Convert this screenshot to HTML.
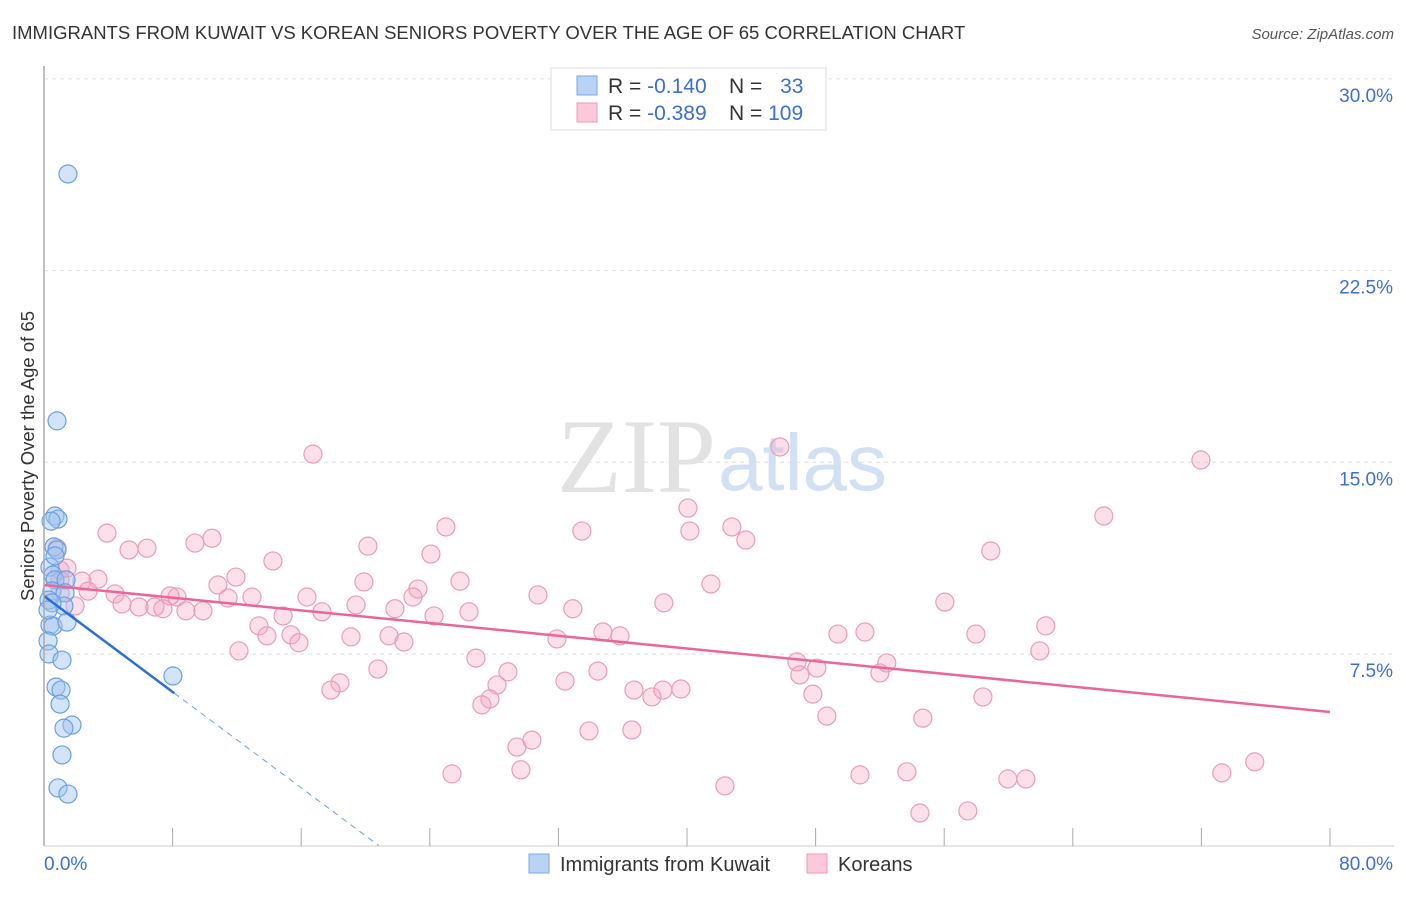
<!DOCTYPE html>
<html><head><meta charset="utf-8"><style>
body{margin:0;background:#fff;font-family:"Liberation Sans",sans-serif}
svg text{font-family:"Liberation Sans",sans-serif}
</style></head><body>
<svg id="c" width="1406" height="892">
<text x="12" y="39" font-size="18.5" fill="#333">IMMIGRANTS FROM KUWAIT VS KOREAN SENIORS POVERTY OVER THE AGE OF 65 CORRELATION CHART</text>
<text x="1394" y="39" font-size="15" fill="#555" font-style="italic" text-anchor="end">Source: ZipAtlas.com</text>
<g id="grid"></g>
<text x="716" y="492" font-size="106" fill="#e2e2e2" text-anchor="end" style="font-family:'Liberation Serif',serif">ZIP</text>
<text x="718" y="490" font-size="80" fill="#d2e0f4">atlas</text>
<g id="pts"></g>
<g id="axes"></g>
<text transform="translate(34,456) rotate(-90)" font-size="18.5" fill="#333" text-anchor="middle">Seniors Poverty Over the Age of 65</text>
<g>
<rect x="551" y="68" width="275" height="62" fill="#fff" stroke="#ddd"/>
<rect x="577" y="76" width="20" height="19" fill="#b9d3f5" stroke="#7aa7e3"/>
<rect x="577" y="103" width="20" height="19" fill="#fbc9d8" stroke="#ef9ab6"/>
<text x="608" y="93" font-size="21" fill="#333">R = <tspan fill="#3b6fd1">-0.140</tspan></text>
<text x="729" y="93" font-size="21" fill="#333">N = <tspan fill="#3b6fd1" dx="12">33</tspan></text>
<text x="608" y="120" font-size="21" fill="#333">R = <tspan fill="#3b6fd1">-0.389</tspan></text>
<text x="729" y="120" font-size="21" fill="#333">N = <tspan fill="#3b6fd1">109</tspan></text>
</g>
<g>
<rect x="529" y="854" width="20" height="19" fill="#b9d3f5" stroke="#7aa7e3"/>
<text x="560" y="871" font-size="20" fill="#333">Immigrants from Kuwait</text>
<rect x="807" y="854" width="20" height="19" fill="#fbc9d8" stroke="#ef9ab6"/>
<text x="838" y="871" font-size="20" fill="#333">Koreans</text>
</g>
</svg>
<script>
const yTicks=[7.5,15,22.5,30];
const yTickLabels=["7.5%","15.0%","22.5%","30.0%"];
const xTicks=[0,8,16,24,32,40,48,56,64,72,80];
const blueX=[1.49,0.81,0.68,0.87,0.44,0.62,0.81,0.37,0.56,0.68,1.37,0.50,1.31,0.31,1.24,0.37,0.56,1.43,0.25,0.31,1.12,0.75,1.06,1.0,1.74,1.24,1.12,0.87,1.49,8.02,0.50,0.25,0.68];
const blueY=[26.28,16.62,12.90,12.78,12.70,11.69,11.57,10.90,10.59,10.40,10.40,9.97,9.89,9.61,9.38,8.63,8.59,8.75,8.01,7.50,7.26,6.21,6.09,5.54,4.72,4.60,3.55,2.26,2.02,6.64,9.5,9.22,11.34];
const pinkX=[16.73,45.78,71.97,40.06,65.93,25.00,33.46,40.18,42.79,43.66,3.92,6.41,5.29,9.39,10.45,20.15,24.07,58.90,14.24,0.81,1.00,1.43,11.94,10.82,3.36,2.36,1.00,2.74,4.42,19.90,25.88,41.49,23.26,16.36,22.95,12.94,11.45,30.73,8.27,7.84,4.85,5.91,6.90,7.40,8.83,9.89,19.41,21.83,26.44,32.90,38.56,56.04,17.29,14.87,24.26,13.37,13.87,15.36,15.86,19.10,21.46,22.39,31.91,34.77,35.83,49.39,51.07,57.97,62.32,61.95,12.13,1.93,1.00,20.77,26.87,28.86,34.46,46.84,48.08,47.02,52.00,52.43,18.41,17.85,28.18,32.41,36.70,37.82,38.50,39.62,47.83,58.41,27.74,27.24,48.70,54.67,33.90,36.57,29.42,30.35,25.38,29.67,42.36,50.76,53.68,59.96,61.08,73.27,75.32,54.49,57.47];
const pinkY=[15.32,15.60,15.09,13.21,12.90,12.47,12.31,12.31,12.47,11.96,12.23,11.64,11.57,11.84,12.03,11.72,11.41,11.53,11.14,11.64,10.78,10.86,10.51,10.20,10.43,10.35,10.39,9.96,9.85,10.32,10.35,10.24,10.04,9.73,9.73,9.73,9.69,9.81,9.73,9.77,9.46,9.34,9.34,9.27,9.19,9.19,9.42,9.27,9.15,9.27,9.50,9.53,9.15,8.99,8.99,8.60,8.21,8.25,7.94,8.17,8.21,7.97,8.09,8.36,8.21,8.28,8.36,8.28,8.60,7.62,7.62,9.38,9.89,6.91,7.34,6.80,6.83,7.19,6.95,6.68,6.76,7.15,6.37,6.09,6.29,6.44,6.09,5.82,6.09,6.13,5.93,5.82,5.74,5.51,5.07,4.99,4.49,4.53,3.86,4.13,2.81,2.97,2.34,2.77,2.89,2.61,2.61,2.85,3.28,1.28,1.36];
const blueTrend=[9.77,-0.469];
const pinkTrend=[10.20,-0.0621];
const X0=44,X1=1330,Y0=845.7,YS=191.7/7.5;
const sx=v=>X0+(v/80)*(X1-X0), sy=v=>Y0-v*YS;
const NS="http://www.w3.org/2000/svg";
function mk(tag,attrs,parent){const e=document.createElementNS(NS,tag);for(const k in attrs)e.setAttribute(k,attrs[k]);parent.appendChild(e);return e;}
const grid=document.getElementById('grid'),axes=document.getElementById('axes'),pts=document.getElementById('pts');
yTicks.forEach((t,i)=>{
 const l=mk('line',{x1:X0,x2:1394,y1:sy(t),y2:sy(t),stroke:'#ddd','stroke-dasharray':'4,4'},grid);
 
 
 const tx=mk('text',{x:1393,y:sy(t)+23,'font-size':19,fill:'#3b6fd1','text-anchor':'end'},axes);
 tx.textContent=yTickLabels[i];
 
 
});
const ya=mk('line',{x1:X0,x2:X0,y1:66,y2:846,stroke:'#aaa','stroke-width':1.5},axes);


const xa=mk('line',{x1:X0,x2:1394,y1:846,y2:846,stroke:'#ccc'},axes);


xTicks.forEach(t=>{
 if(t===0)return;
 const l=mk('line',{x1:sx(t),x2:sx(t),y1:828,y2:846,stroke:'#aaa'},axes);
 
 
});
const xl0=mk('text',{x:44,y:870,'font-size':19,fill:'#3b6fd1'},axes);xl0.textContent='0.0%';


const xl1=mk('text',{x:1393,y:870,'font-size':19,fill:'#3b6fd1','text-anchor':'end'},axes);xl1.textContent='80.0%';


pinkX.forEach((x,i)=>{
 const c=mk('circle',{cx:sx(x),cy:sy(pinkY[i]),r:9,fill:'rgba(244,165,192,0.35)',stroke:'#eb9bb6','stroke-width':1.2},pts);
 
 
});
blueX.forEach((x,i)=>{
 const c=mk('circle',{cx:sx(x),cy:sy(blueY[i]),r:9,fill:'rgba(160,195,240,0.45)',stroke:'#6a9fe0','stroke-width':1.2},pts);
 
 
});
const pl=mk('line',{x1:sx(0),y1:sy(pinkTrend[0]),x2:sx(80),y2:sy(pinkTrend[0]+pinkTrend[1]*80),stroke:'#e8679a','stroke-width':2.5},pts);


const bEnd=8.1, bZero=-blueTrend[0]/blueTrend[1];
const bl=mk('line',{x1:sx(0),y1:sy(blueTrend[0]),x2:sx(bEnd),y2:sy(blueTrend[0]+blueTrend[1]*bEnd),stroke:'#2a6fd6','stroke-width':2.5},pts);


const bd=mk('line',{x1:sx(bEnd),y1:sy(blueTrend[0]+blueTrend[1]*bEnd),x2:sx(bZero),y2:sy(0),stroke:'#6a9fe0','stroke-width':1,'stroke-dasharray':'6,5'},pts);


</script>
</body></html>
